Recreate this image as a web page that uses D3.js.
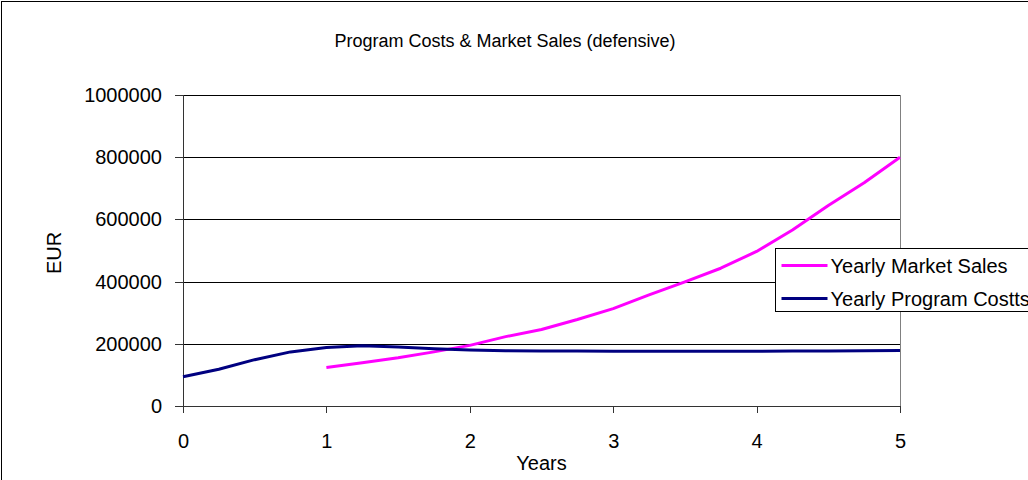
<!DOCTYPE html>
<html>
<head>
<meta charset="utf-8">
<script src="https://d3js.org/d3.v7.min.js"></script>
<style>
    body {
        margin: 0;
        padding: 0;
        background: #fff;
        font-family: "Liberation Sans", Arial, sans-serif;
    }
    .grid line {
        stroke: #000;
        stroke-width: 1;
        shape-rendering: crispEdges;
    }
    .axis path, .axis line {
        fill: none;
        stroke: #333;
        shape-rendering: crispEdges;
    }
    .axis text {
        fill: #000;
        font-family: "Liberation Sans", Arial, sans-serif;
        font-size: 20px;
    }
    .series {
        fill: none;
        stroke-width: 3;
        stroke-linejoin: round;
    }
</style>
</head>
<body>
<script>

var title = "Program Costs & Market Sales (defensive)";
var seriesNames = ["Yearly Market Sales", "Yearly Program Costts"];
var seriesColors = ["#ff00ff", "#000080"];

// quarterly points, years 0..5
var years = [0, 0.25, 0.5, 0.75, 1, 1.25, 1.5, 1.75, 2, 2.25, 2.5, 2.75, 3,
             3.25, 3.5, 3.75, 4, 4.25, 4.5, 4.75, 5];

// market sales start in year 1
var marketSales = [null, null, null, null, 124000, 139000, 155000, 174000, 195000,
                   223000, 246000, 278000, 313000, 357000, 399000, 443000, 497000,
                   566000, 645000, 718000, 800000];

var programCosts = [94000, 118000, 149000, 174000, 188000, 194000, 190000, 184000, 180000,
                    178000, 177000, 176500, 176000, 176000, 176000, 176000, 176000,
                    176500, 177000, 178000, 178500];

var yTicks = [0, 200000, 400000, 600000, 800000, 1000000];
var xTicks = [0, 1, 2, 3, 4, 5];

var width = 1028, height = 480;
var margin = {left: 183, right: 128, top: 95, bottom: 74};
var plotW = width - margin.left - margin.right;
var plotH = height - margin.top - margin.bottom;

var svg = d3.select("body")
    .append("svg")
    .attr("width", width)
    .attr("height", height);

// outer chart frame
svg.append("rect")
    .attr("x", 1.5).attr("y", 1.5)
    .attr("width", width + 10).attr("height", height + 10)
    .attr("fill", "none")
    .attr("stroke", "#000");

svg.append("text")
    .attr("x", 505).attr("y", 47)
    .attr("text-anchor", "middle")
    .style("font-size", "18px")
    .text(title);

var x = d3.scaleLinear().domain([0, 5]).range([0, plotW]);
var y = d3.scaleLinear().domain([0, 1000000]).range([plotH, 0]);

var g = svg.append("g")
    .attr("transform", "translate(" + margin.left + "," + margin.top + ")");

// horizontal gridlines
g.append("g")
    .attr("class", "grid")
    .selectAll("line")
    .data(yTicks.slice(1))
    .enter().append("line")
    .attr("x1", 0).attr("x2", plotW)
    .attr("y1", function (d) { return Math.round(y(d)) + 0.5; })
    .attr("y2", function (d) { return Math.round(y(d)) + 0.5; });

// right border of plot area
g.append("line")
    .attr("x1", plotW + 0.5).attr("x2", plotW + 0.5)
    .attr("y1", 0).attr("y2", plotH)
    .attr("stroke", "#808080")
    .style("shape-rendering", "crispEdges");

var yAxis = d3.axisLeft(y)
    .tickValues(yTicks)
    .tickSize(8)
    .tickPadding(13)
    .tickFormat(d3.format("d"));

var xAxis = d3.axisBottom(x)
    .tickValues(xTicks)
    .tickSize(7)
    .tickPadding(21)
    .tickFormat(d3.format("d"));

g.append("g")
    .attr("class", "y axis")
    .call(yAxis)
    .call(function (s) { s.select(".domain").attr("d", "M0.5," + plotH + "V0"); });

g.append("g")
    .attr("class", "x axis")
    .attr("transform", "translate(0," + plotH + ")")
    .call(xAxis)
    .call(function (s) { s.select(".domain").attr("d", "M-8,0.5H" + plotW); });

var line = d3.line()
    .defined(function (d) { return d[1] != null; })
    .x(function (d) { return x(d[0]); })
    .y(function (d) { return y(d[1]); });

[marketSales, programCosts].forEach(function (vals, i) {
    g.append("path")
        .attr("class", "series")
        .attr("stroke", seriesColors[i])
        .attr("d", line(years.map(function (yr, j) { return [yr, vals[j]]; })));
});

// axis titles
svg.append("text")
    .attr("x", margin.left + x(2.5)).attr("y", 470)
    .attr("text-anchor", "middle")
    .style("font-size", "20px")
    .text("Years");

svg.append("text")
    .attr("transform", "translate(61,253) rotate(-90)")
    .attr("text-anchor", "middle")
    .style("font-size", "20px")
    .text("EUR");

// legend
var legend = svg.append("g").attr("transform", "translate(775.5,248.5)");
legend.append("rect")
    .attr("width", 300).attr("height", 63)
    .attr("fill", "#fff")
    .attr("stroke", "#000");

seriesNames.forEach(function (name, i) {
    var row = legend.append("g").attr("transform", "translate(0," + (17 + i * 33) + ")");
    row.append("line")
        .attr("x1", 6).attr("x2", 52)
        .attr("stroke", seriesColors[i])
        .attr("stroke-width", 3);
    row.append("text")
        .attr("x", 55).attr("dy", "0.35em")
        .style("font-size", "20px")
        .text(name);
});

</script>
</body>
</html>
